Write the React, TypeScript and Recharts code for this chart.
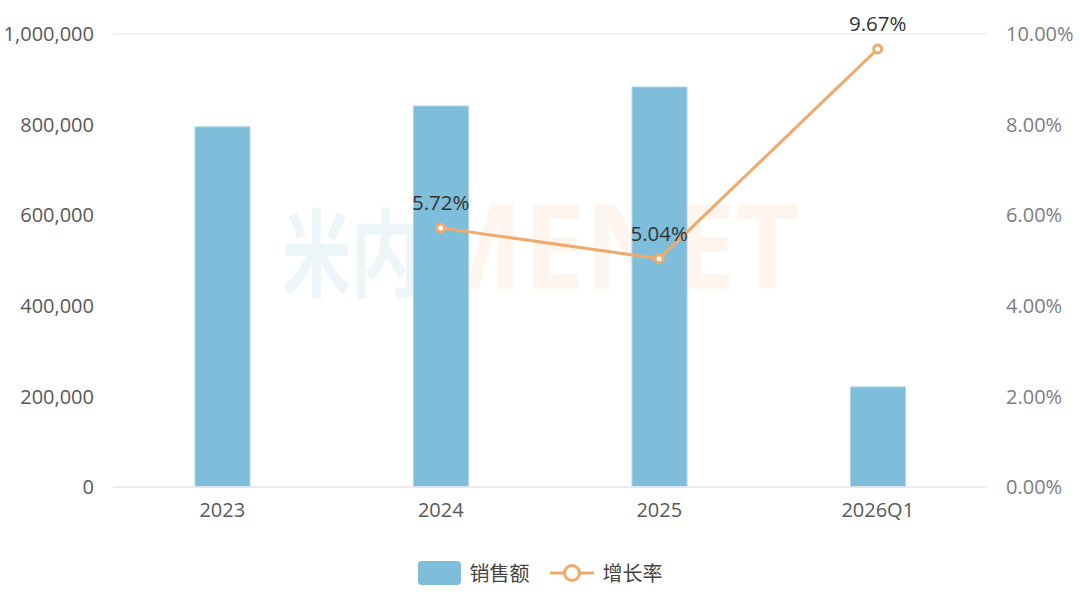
import { Bar, CartesianGrid, ComposedChart, LabelList, Legend, Line, XAxis, YAxis } from "recharts";

const categories = ["2023", "2024", "2025", "2026Q1"];
const sales = [795000, 841000, 883000, 221000];
const growth: (number | null)[] = [null, 5.72, 5.04, 9.67];
const leftTicks = [0, 200000, 400000, 600000, 800000, 1000000];
const rightTicks = [0, 2, 4, 6, 8, 10];

const data = categories.map((c, i) => ({ name: c, sales: sales[i], growth: growth[i] }));

const FONT = '"Open Sans", "Noto Sans CJK SC", sans-serif';
const BAR_COLOR = "#7fbedb";
const LINE_COLOR = "#efaa6c";

function LegendContent() {
  return (
    <div
      style={{
        display: "flex",
        justifyContent: "center",
        alignItems: "center",
        gap: 20,
        marginTop: 27,
        fontFamily: FONT,
        fontSize: 20,
        color: "#444",
      }}
    >
      <span style={{ display: "flex", alignItems: "center", gap: 9 }}>
        <span style={{ width: 43, height: 24, background: BAR_COLOR, borderRadius: 4, display: "inline-block" }} />
        销售额
      </span>
      <span style={{ display: "flex", alignItems: "center", gap: 9 }}>
        <svg width={44} height={24}>
          <line x1={0} y1={12} x2={44} y2={12} stroke={LINE_COLOR} strokeWidth={3} />
          <circle cx={22} cy={12} r={7.5} fill="#fff" stroke={LINE_COLOR} strokeWidth={3} />
        </svg>
        增长率
      </span>
    </div>
  );
}

export default function App() {
  return (
    <div style={{ position: "fixed", left: 0, top: 0, width: 1080, height: 594, background: "#fff" }}>
      <svg
        width={1080}
        height={594}
        style={{ position: "absolute", left: 0, top: 0, pointerEvents: "none" }}
      >
        <text
          x={0}
          y={0}
          transform="translate(282 289) scale(0.72 1)"
          fontFamily='"Noto Sans CJK SC", sans-serif'
          fontWeight={700}
          fontSize={96}
          fill="#eaf3f7"
          fillOpacity={0.8}
        >
          米内
        </text>
        <text
          x={0}
          y={0}
          transform="translate(420 289) scale(0.93 1)"
          fontFamily='"Noto Sans", sans-serif'
          fontWeight={700}
          fontSize={118}
          fill="#fdeee3"
          fillOpacity={0.6}
        >
          MENET
        </text>
      </svg>
      <ComposedChart
        width={1080}
        height={594}
        data={data}
        margin={{ top: 34, right: 0, left: 0, bottom: 8 }}
        style={{ position: "absolute", left: 0, top: 0 }}
      >
        <CartesianGrid vertical={false} stroke="#ebebeb" strokeWidth={1.5} />
        <XAxis
          dataKey="name"
          tickLine={false}
          axisLine={{ stroke: "#ebebeb", strokeWidth: 1.5 }}
          tick={{ fill: "#595959", fontSize: 20, fontFamily: FONT }}
          tickMargin={10}
          height={44}
        />
        <YAxis
          yAxisId="left"
          domain={[0, 1000000]}
          ticks={leftTicks}
          width={113}
          tickLine={false}
          axisLine={false}
          tick={{ fill: "#595959", fontSize: 20, fontFamily: FONT }}
          tickMargin={13}
          tickFormatter={(v: number) => v.toLocaleString("en-US")}
        />
        <YAxis
          yAxisId="right"
          orientation="right"
          domain={[0, 10]}
          ticks={rightTicks}
          width={93}
          tickLine={false}
          axisLine={false}
          tick={{ fill: "#7c7c84", fontSize: 20, fontFamily: FONT }}
          tickMargin={13}
          tickFormatter={(v: number) => `${v.toFixed(2)}%`}
        />
        <Legend verticalAlign="bottom" height={55} content={<LegendContent />} />
        <Bar
          yAxisId="left"
          dataKey="sales"
          barSize={55}
          fill={BAR_COLOR}
          stroke="#a9d5e9"
          strokeWidth={1}
          isAnimationActive={false}
        />
        <Line
          yAxisId="right"
          dataKey="growth"
          stroke={LINE_COLOR}
          strokeWidth={3}
          dot={{ r: 4, fill: "#fff", stroke: LINE_COLOR, strokeWidth: 3 }}
          activeDot={false}
          isAnimationActive={false}
        >
          <LabelList
            dataKey="growth"
            position="top"
            offset={18}
            style={{ fill: "#333", fontSize: 20.5, fontFamily: FONT }}
            formatter={(v: unknown) => (typeof v === "number" ? `${v.toFixed(2)}%` : "")}
          />
        </Line>
      </ComposedChart>
    </div>
  );
}
